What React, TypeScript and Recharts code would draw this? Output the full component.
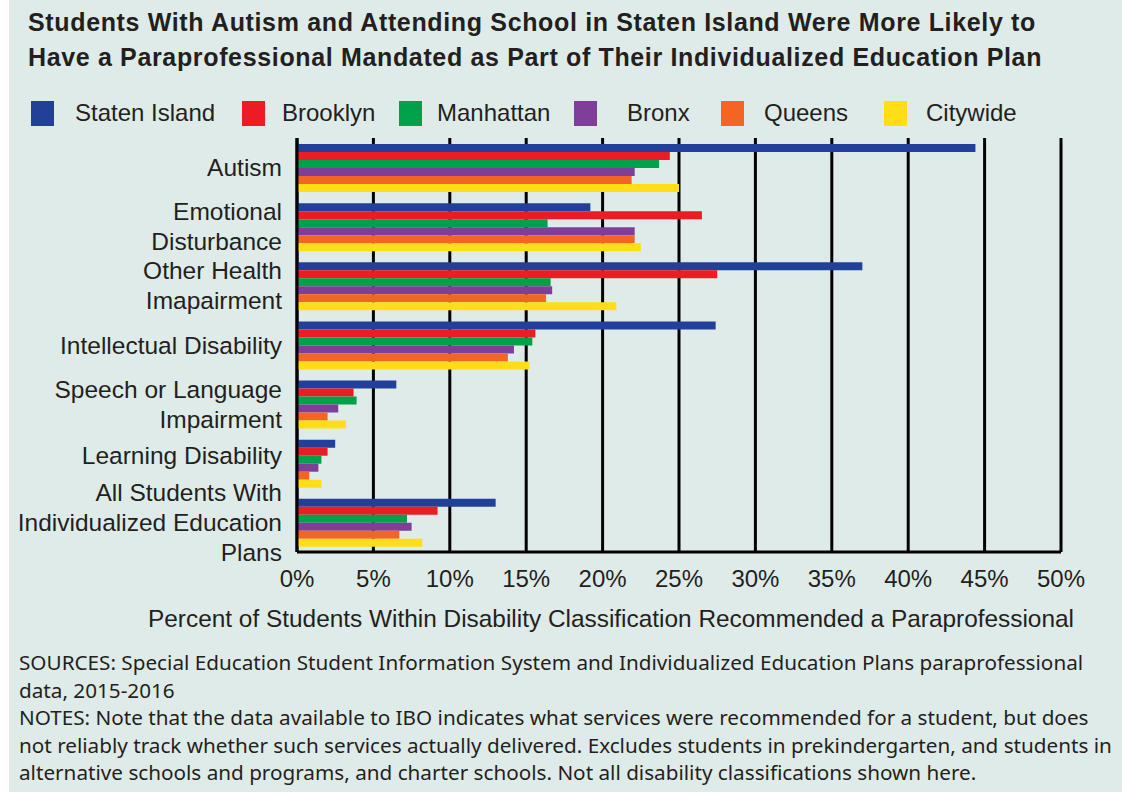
import { BarChart, Bar, XAxis, YAxis, CartesianGrid, Label } from 'recharts'

const categories = [
  'Autism',
  'Emotional\nDisturbance',
  'Other Health\nImapairment',
  'Intellectual Disability',
  'Speech or Language\nImpairment',
  'Learning Disability',
  'All Students With\nIndividualized Education\nPlans',
]

const statenIsland = [44.4, 19.2, 37.0, 27.4, 6.5, 2.5, 13.0]
const brooklyn = [24.4, 26.5, 27.5, 15.6, 3.7, 2.0, 9.2]
const manhattan = [23.7, 16.4, 16.6, 15.4, 3.9, 1.6, 7.2]
const bronx = [22.1, 22.1, 16.7, 14.2, 2.7, 1.4, 7.5]
const queens = [21.9, 22.1, 16.3, 13.8, 2.0, 0.8, 6.7]
const citywide = [25.0, 22.5, 20.9, 15.2, 3.2, 1.6, 8.2]

const xTicks = [0, 5, 10, 15, 20, 25, 30, 35, 40, 45, 50]

const series = [
  { key: 'statenIsland', name: 'Staten Island', color: '#22409a' },
  { key: 'brooklyn', name: 'Brooklyn', color: '#ed1c24' },
  { key: 'manhattan', name: 'Manhattan', color: '#00a14b' },
  { key: 'bronx', name: 'Bronx', color: '#7f3f98' },
  { key: 'queens', name: 'Queens', color: '#f26522' },
  { key: 'citywide', name: 'Citywide', color: '#ffde17' },
]

// legend layout (swatch left, label left), in container px
const legendSwatchX = [22, 233, 390, 565, 712, 875]
const legendTextX = [66, 273, 428, 618, 755, 917]

const data = categories.map((name, i) => ({
  name,
  statenIsland: statenIsland[i],
  brooklyn: brooklyn[i],
  manhattan: manhattan[i],
  bronx: bronx[i],
  queens: queens[i],
  citywide: citywide[i],
}))

const BG = '#dfebe8'
const INK = '#231f20'
const FONT = '"Liberation Sans", Arial, sans-serif'

const labelNudge: Record<string, number> = { 'Learning Disability': -8 }

function CategoryTick(props: any) {
  const { x, y, payload } = props
  const lines: string[] = String(payload.value).split('\n')
  const lh = 30
  const y0 = y - ((lines.length - 1) * lh) / 2 + (labelNudge[payload.value] || 0)
  return (
    <text x={x} y={y0} textAnchor="end" fill={INK} fontSize={24.5} fontFamily={FONT}>
      {lines.map((l, i) => (
        <tspan key={i} x={x} y={y0 + i * lh} dy="0.35em">
          {l}
        </tspan>
      ))}
    </text>
  )
}

export default function App() {
  return (
    <div
      style={{
        position: 'absolute',
        left: 9,
        top: 0,
        width: 1113,
        height: 792,
        background: BG,
        color: INK,
        fontFamily: FONT,
        overflow: 'hidden',
      }}
    >
      <div
        style={{
          position: 'absolute',
          left: 19,
          top: 5,
          fontWeight: 700,
          fontSize: 25,
          letterSpacing: 0.65,
          lineHeight: '35px',
          whiteSpace: 'nowrap',
        }}
      >
        Students With Autism and Attending School in Staten Island Were More Likely to
        <br />
        Have a Paraprofessional Mandated as Part of Their Individualized Education Plan
      </div>

      {series.map((s, i) => (
        <div key={s.key}>
          <div
            style={{
              position: 'absolute',
              left: legendSwatchX[i],
              top: 101,
              width: 23,
              height: 25,
              background: s.color,
            }}
          />
          <div
            style={{
              position: 'absolute',
              left: legendTextX[i],
              top: 99,
              fontSize: 24,
              lineHeight: '28px',
              whiteSpace: 'nowrap',
            }}
          >
            {s.name}
          </div>
        </div>
      ))}

      <div style={{ position: 'absolute', left: 0, top: 0 }}>
        <BarChart
          width={1113}
          height={640}
          layout="vertical"
          data={data}
          margin={{ top: 138, right: 61, left: 0, bottom: 0 }}
          barGap={0}
          barSize={8}
        >
          <CartesianGrid horizontal={false} vertical stroke="#000" strokeWidth={3} />
          <XAxis
            type="number"
            domain={[0, 50]}
            ticks={xTicks}
            interval={0}
            tickFormatter={(v: number) => `${v}%`}
            height={88}
            axisLine={{ stroke: '#000', strokeWidth: 3 }}
            tickLine={false}
            tickMargin={12}
            tick={{ fill: INK, fontSize: 24, fontFamily: FONT }}
          >
            <Label
              content={(p: any) => {
                const vb = p.viewBox || {}
                return (
                  <text
                    x={vb.x + vb.width / 2 - 68}
                    y={vb.y + vb.height - 13}
                    textAnchor="middle"
                    fill={INK}
                    fontSize={24.4}
                    fontFamily={FONT}
                  >
                    Percent of Students Within Disability Classification Recommended a Paraprofessional
                  </text>
                )
              }}
            />
          </XAxis>
          <YAxis
            type="category"
            dataKey="name"
            width={288}
            interval={0}
            axisLine={{ stroke: '#000', strokeWidth: 3 }}
            tickLine={false}
            tickMargin={9}
            tick={<CategoryTick />}
          />
          {series.map((s) => (
            <Bar key={s.key} dataKey={s.key} name={s.name} fill={s.color} isAnimationActive={false} />
          ))}
        </BarChart>
      </div>

      <div
        style={{
          position: 'absolute',
          left: 10,
          top: 649,
          fontFamily: '"Noto Sans", sans-serif',
          fontSize: 20.7,
          lineHeight: '27.5px',
          whiteSpace: 'nowrap',
        }}
      >
        SOURCES: Special Education Student Information System and Individualized Education Plans paraprofessional
        <br />
        data, 2015-2016
        <br />
        NOTES: Note that the data available to IBO indicates what services were recommended for a student, but does
        <br />
        not reliably track whether such services actually delivered. Excludes students in prekindergarten, and students in
        <br />
        alternative schools and programs, and charter schools. Not all disability classifications shown here.
      </div>
    </div>
  )
}
